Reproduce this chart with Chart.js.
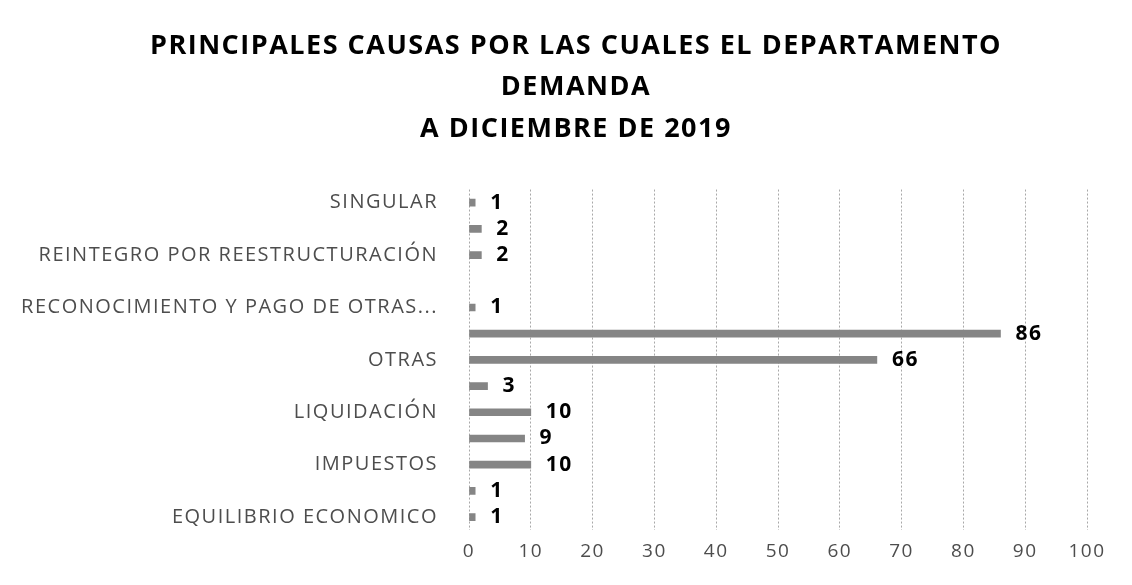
<!DOCTYPE html>
<html>
<head>
<meta charset="utf-8">
<script src="https://cdn.jsdelivr.net/npm/chart.js@4.4.1/dist/chart.umd.min.js"></script>
<style>
  html, body { margin: 0; padding: 0; background: #fff; }
  canvas { display: block; }
</style>
</head>
<body>
<canvas id="causasChart" width="1132" height="585"></canvas>
<script>
// categories top to bottom; the odd ones carry no visible label in the picture
const categorias = [
    'SINGULAR',
    '',
    'REINTEGRO POR REESTRUCTURACIÓN',
    '',
    'RECONOCIMIENTO Y PAGO DE OTRAS...',
    '',
    'OTRAS',
    '',
    'LIQUIDACIÓN',
    '',
    'IMPUESTOS',
    '',
    'EQUILIBRIO ECONOMICO'
];
const demandas = [1, 2, 2, null, 1, 86, 66, 3, 10, 9, 10, 1, 1];
const titulo = [
    'PRINCIPALES CAUSAS POR LAS CUALES EL DEPARTAMENTO',
    'DEMANDA',
    'A DICIEMBRE DE 2019'
];
const ejeMax = 100;
const ejePaso = 10;

const ctxCausas = document.getElementById('causasChart');

// the scan is stretched wide, so text gets a little letter spacing
const spacing = {
    id: 'spacing',
    beforeLayout(chart) { chart.ctx.letterSpacing = '1.5px'; },
    beforeDraw(chart) { chart.ctx.letterSpacing = '1.5px'; }
};

const valueLabels = {
    id: 'valueLabels',
    afterDatasetsDraw(chart) {
        const ctx = chart.ctx;
        const meta = chart.getDatasetMeta(0);
        ctx.save();
        ctx.font = 'bold 21px "Open Sans"';
        ctx.fillStyle = '#000';
        ctx.textAlign = 'left';
        ctx.textBaseline = 'middle';
        meta.data.forEach((bar, i) => {
            const v = demandas[i];
            if (v === null) return;
            ctx.fillText(String(v), bar.x + 15, bar.y);
        });
        ctx.restore();
    }
};

const myChart = new Chart(ctxCausas, {
    type: 'bar',
    data: {
        labels: categorias,
        datasets: [{
            label: 'Demandas',
            data: demandas,
            backgroundColor: '#858585',
            barThickness: 7
        }]
    },
    options: {
        indexAxis: 'y',
        responsive: false,
        animation: false,
        layout: {
            padding: { top: 6, left: 20, right: 0, bottom: 12 }
        },
        plugins: {
            legend: { display: false },
            tooltip: { enabled: false },
            title: {
                display: true,
                text: titulo,
                color: '#000',
                font: { family: '"Open Sans"', size: 27, weight: 'bold', lineHeight: 1.55 },
                padding: { top: 19, bottom: 39 }
            }
        },
        scales: {
            x: {
                min: 0,
                max: ejeMax,
                ticks: {
                    stepSize: ejePaso,
                    color: '#4d4d4d',
                    font: { family: '"Open Sans"', size: 19 },
                    padding: 10
                },
                grid: { color: '#a8a8a8', drawTicks: false },
                border: { display: false, dash: [2, 2] },
                afterFit(scale) { scale.paddingRight = 45; }
            },
            y: {
                ticks: {
                    autoSkip: false,
                    color: '#4d4d4d',
                    font: { family: '"Open Sans"', size: 20 },
                    padding: 23,
                    callback: (v, i) => categorias[i]
                },
                grid: { display: false },
                border: { display: false },
                afterFit(scale) { scale.width = 449; }
            }
        }
    },
    plugins: [spacing, valueLabels]
});
</script>
</body>
</html>
